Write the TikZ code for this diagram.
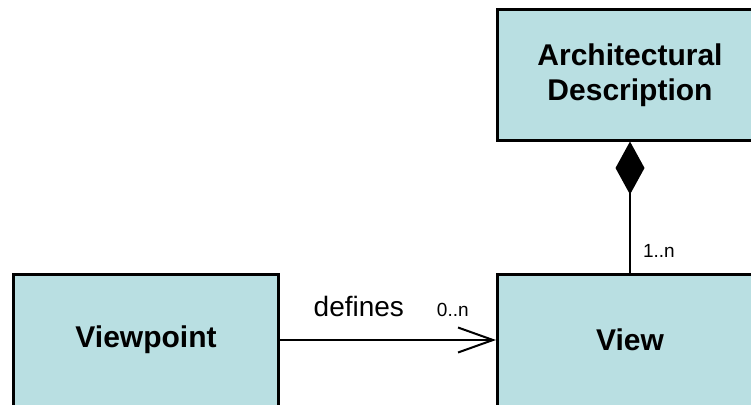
\documentclass[tikz,border=0pt]{standalone}
\usepackage{fontspec}
\setmainfont{Liberation Sans}
\usetikzlibrary{positioning,arrows.meta}
\definecolor{classfill}{RGB}{185,223,226}

\begin{document}
\begin{tikzpicture}[x=1pt,y=-1pt]
  \tikzstyle{every node}+=[inner sep=0pt]
  \tikzstyle{classbox}=[draw=black, line width=3pt, fill=classfill, minimum width=265pt, minimum height=130pt, align=center, font=\fontsize{30}{35}\selectfont\bfseries]
  \tikzstyle{mult}=[font=\fontsize{19}{21}\selectfont]
  \tikzstyle{link}=[draw=black, line width=2pt]
  \useasboundingbox (0,0) rectangle (751,404);
  \clip (0,0) rectangle (751,404);
  \node [classbox] (ad) at (630,75) {Architectural\\Description};
  \node [classbox, minimum height=132pt] (vp) at (146,340) {Viewpoint};
  \node [classbox, minimum height=132pt] (view) at (630,340) {View};
  \draw [link, -{Straight Barb[length=35pt,width=25pt]}] (vp) -- node[pos=0.365, above=22pt, font=\fontsize{28}{30}\selectfont] (defines) {defines} node[pos=0.8, above=22pt, mult] (vpmult) {0..n} (view);
  \draw [link, -{Diamond[length=53pt,width=29pt]}] (view) -- node[pos=0.164, right=12pt, mult] (viewmult) {1..n} (ad);
\end{tikzpicture}
\end{document}
